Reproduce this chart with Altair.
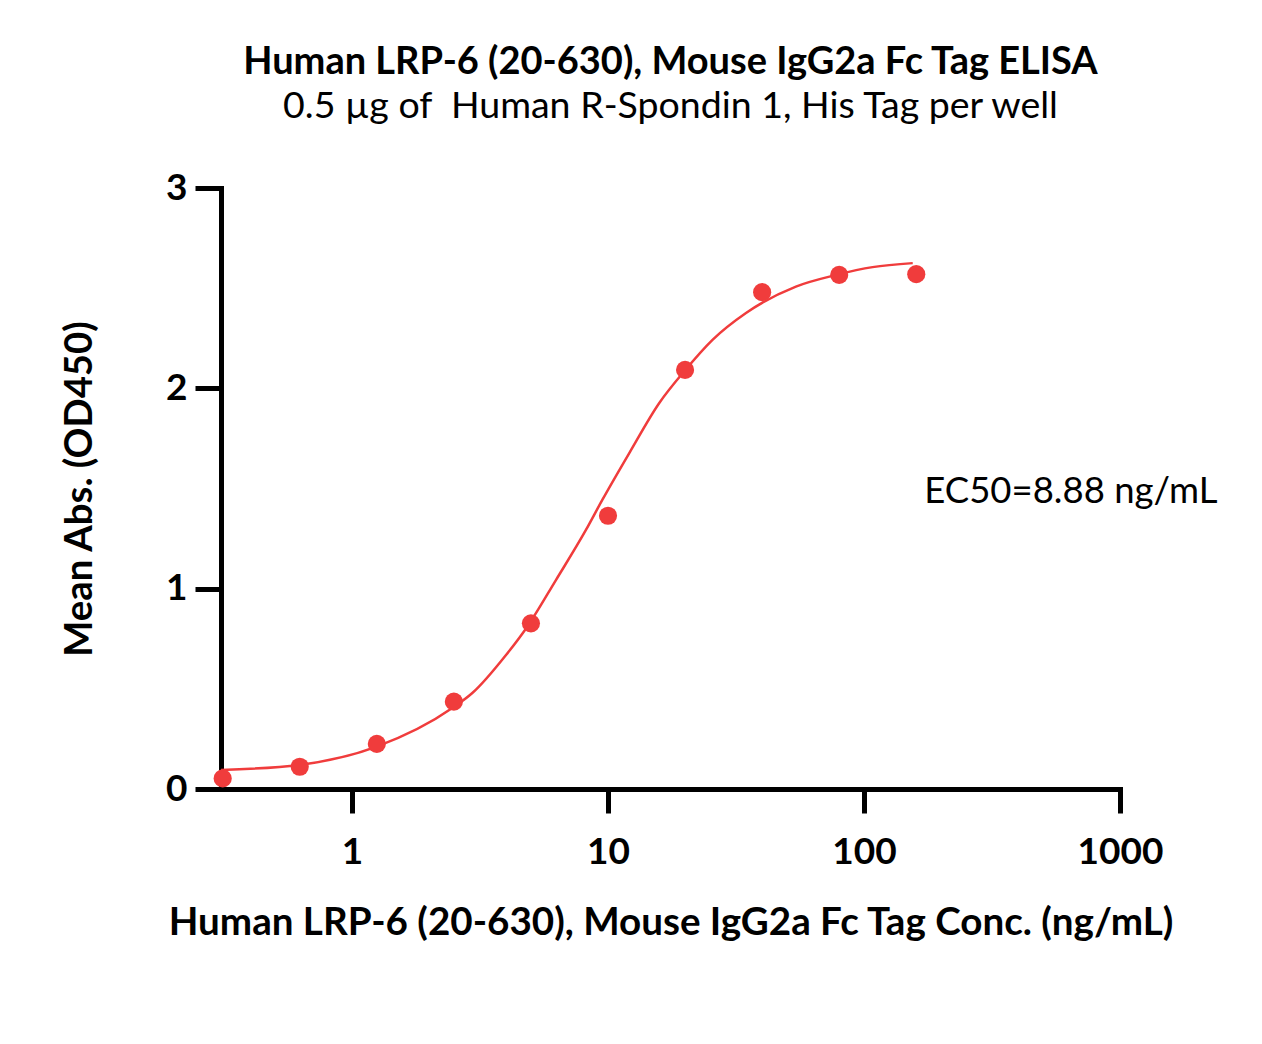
import altair as alt
import pandas as pd

# Measured data (ng/mL vs OD450)
conc = [0.3125, 0.625, 1.25, 2.5, 5, 10, 20, 40, 80, 160]
od = [0.053, 0.111, 0.225, 0.436, 0.827, 1.364, 2.092, 2.480, 2.566, 2.570]

# Fitted curve
curve_x = [0.3078, 0.622, 1.241, 2.465, 2.951, 3.996, 4.80, 6.26, 8.20, 9.50,
           12.11, 15.86, 20.0, 25.6, 34.6, 54.2, 77.8, 108.0, 155.0]
curve_y = [0.095, 0.120, 0.210, 0.404, 0.479, 0.669, 0.804, 1.043, 1.293, 1.443,
           1.677, 1.927, 2.090, 2.242, 2.376, 2.508, 2.566, 2.605, 2.625]

x_ticks = [1, 10, 100, 1000]
y_ticks = [0, 1, 2, 3]

title_text = "Human LRP-6 (20-630), Mouse IgG2a Fc Tag ELISA"
subtitle_text = "0.5 \u00b5g of\u00a0 Human R-Spondin 1, His Tag per well"
x_title = "Human LRP-6 (20-630), Mouse IgG2a Fc Tag Conc. (ng/mL)"
y_title = "Mean Abs. (OD450)"
ec50_label = ["EC50=8.88 ng/mL"]
ec50_x = [172]
ec50_y = [1.43]

FONT = "Lato"
RED = "#F03C3C"

pts = pd.DataFrame({"conc": conc, "od": od})
crv = pd.DataFrame({"conc": curve_x, "od": curve_y})
ann = pd.DataFrame({"conc": ec50_x, "od": ec50_y, "label": ec50_label})

xscale = alt.Scale(type="log", domain=[0.3078, 1000], nice=False)
yscale = alt.Scale(domain=[0, 3], nice=False, zero=True)

xaxis = alt.Axis(values=x_ticks, title=x_title, format="d", grid=False,
                 domainWidth=5, domainColor="black", domainCap="square",
                 tickWidth=5, tickColor="black", tickSize=24,
                 labelFont=FONT, labelFontSize=37, labelFontWeight="bold",
                 labelColor="black", labelPadding=21,
                 titleFont=FONT, titleFontSize=38.6, titleFontWeight="bold",
                 titleColor="black", titlePadding=34, labelFlush=False)
yaxis = alt.Axis(values=y_ticks, title=y_title, format="d", grid=False,
                 domainWidth=5, domainColor="black", domainCap="square",
                 tickWidth=5, tickColor="black", tickSize=26,
                 labelFont=FONT, labelFontSize=37, labelFontWeight="bold",
                 labelColor="black", labelPadding=8,
                 titleFont=FONT, titleFontSize=38.3, titleFontWeight="bold",
                 titleColor="black", titlePadding=66, labelFlush=False)

line = alt.Chart(crv).mark_line(color=RED, strokeWidth=2.5, interpolate="monotone").encode(
    x=alt.X("conc:Q", scale=xscale, axis=xaxis),
    y=alt.Y("od:Q", scale=yscale, axis=yaxis),
)
points = alt.Chart(pts).mark_point(filled=True, color=RED, opacity=1, size=330, shape="circle").encode(
    x=alt.X("conc:Q", scale=xscale),
    y=alt.Y("od:Q", scale=yscale),
)
text = alt.Chart(ann).mark_text(font=FONT, fontSize=36.5, align="left", baseline="alphabetic",
                                color="black").encode(
    x=alt.X("conc:Q", scale=xscale),
    y=alt.Y("od:Q", scale=yscale),
    text="label:N",
)

chart = alt.layer(line, points, text).properties(
    width=899, height=601,
    autosize=alt.AutoSizeParams(type="none"),
    padding={"left": 213, "top": 180, "right": 120, "bottom": 200},
    title=alt.TitleParams(text=title_text, subtitle=subtitle_text,
                          font=FONT, fontSize=38, fontWeight="bold", color="black",
                          subtitleFont=FONT, subtitleFontSize=37.5, subtitleFontWeight="normal",
                          subtitleColor="black", anchor="middle", offset=44,
                          subtitlePadding=6),
).configure_view(stroke=None)

chart.save("out.html", embed_options={"renderer": "svg", "actions": False})
